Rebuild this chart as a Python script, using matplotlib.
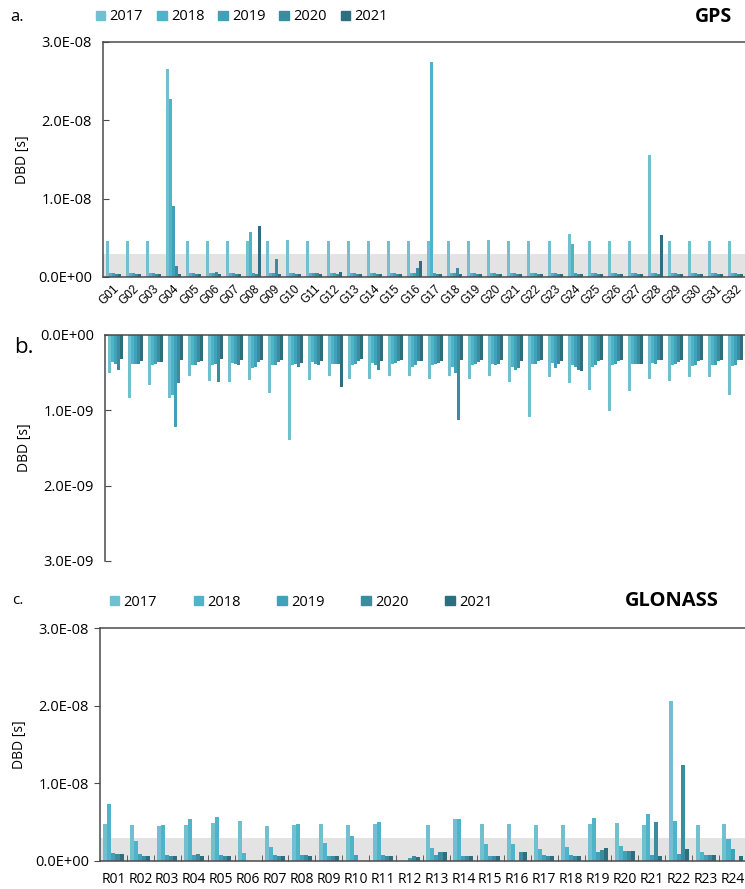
import matplotlib
matplotlib.use("Agg")
import matplotlib.pyplot as plt
import numpy as np
from matplotlib.patches import Patch
from matplotlib.ticker import FixedLocator, FuncFormatter

plt.rcParams["font.family"] = ["Open Sans", "DejaVu Sans"]

years = ["2017", "2018", "2019", "2020", "2021"]
colors = ["#72bfd0", "#4db4ca", "#3fa2b8", "#3a8c9e", "#2e6e7e"]

gps_sats = [f"G{i:02d}" for i in range(1, 33)]
glo_sats = [f"R{i:02d}" for i in range(1, 25)]

# panel a: GPS DBD, units of 1E-9 s
gps_2017 = [4.6, 4.6, 4.6, 26.5, 4.6, 4.6, 4.6, 4.6, 4.6, 4.7, 4.6, 4.6, 4.6, 4.6, 4.6, 4.6,
            4.6, 4.6, 4.6, 4.7, 4.6, 4.6, 4.6, 5.5, 4.6, 4.6, 4.6, 15.6, 4.6, 4.6, 4.6, 4.6]
gps_2018 = [0.45, 0.45, 0.45, 22.7, 0.45, 0.45, 0.45, 5.7, 0.45, 0.45, 0.45, 0.45, 0.45, 0.45, 0.45, 0.45,
            27.5, 0.45, 0.45, 0.45, 0.45, 0.45, 0.45, 4.2, 0.45, 0.45, 0.45, 0.45, 0.45, 0.45, 0.45, 0.45]
gps_2019 = [0.45, 0.45, 0.45, 9.0, 0.45, 0.5, 0.45, 0.45, 0.45, 0.45, 0.45, 0.45, 0.45, 0.45, 0.45, 0.45,
            0.45, 0.45, 0.45, 0.45, 0.45, 0.45, 0.45, 0.45, 0.45, 0.45, 0.45, 0.45, 0.45, 0.45, 0.45, 0.45]
gps_2020 = [0.4, 0.4, 0.4, 1.4, 0.4, 0.7, 0.4, 0.4, 2.3, 0.4, 0.45, 0.4, 0.4, 0.4, 0.4, 1.2,
            0.4, 1.15, 0.4, 0.4, 0.4, 0.4, 0.4, 0.4, 0.4, 0.4, 0.4, 0.4, 0.4, 0.4, 0.4, 0.4]
gps_2021 = [0.35, 0.35, 0.35, 0.4, 0.35, 0.35, 0.35, 6.5, 0.35, 0.35, 0.35, 0.7, 0.35, 0.35, 0.35, 2.0,
            0.35, 0.35, 0.35, 0.35, 0.35, 0.35, 0.35, 0.35, 0.35, 0.35, 0.35, 5.4, 0.35, 0.35, 0.35, 0.35]

# panel b: GPS, zoomed range, units of 1E-9 s
b_2017 = [0.51, 0.84, 0.67, 0.83, 0.54, 0.61, 0.62, 0.60, 0.77, 1.40, 0.60, 0.55, 0.59, 0.58, 0.55, 0.54,
          0.59, 0.54, 0.59, 0.55, 0.62, 1.09, 0.56, 0.64, 0.73, 1.01, 0.74, 0.59, 0.61, 0.56, 0.56, 0.80]
b_2018 = [0.36, 0.39, 0.40, 0.79, 0.40, 0.40, 0.37, 0.44, 0.40, 0.40, 0.36, 0.39, 0.40, 0.37, 0.39, 0.42,
          0.40, 0.43, 0.40, 0.39, 0.43, 0.39, 0.37, 0.40, 0.42, 0.40, 0.39, 0.37, 0.40, 0.41, 0.40, 0.41]
b_2019 = [0.38, 0.39, 0.39, 1.22, 0.40, 0.39, 0.39, 0.42, 0.40, 0.39, 0.39, 0.39, 0.39, 0.40, 0.37, 0.40,
          0.39, 0.50, 0.39, 0.40, 0.47, 0.39, 0.44, 0.43, 0.40, 0.39, 0.39, 0.39, 0.39, 0.40, 0.40, 0.40]
b_2020 = [0.46, 0.38, 0.36, 0.64, 0.36, 0.63, 0.40, 0.36, 0.36, 0.43, 0.40, 0.39, 0.35, 0.47, 0.35, 0.35,
          0.37, 1.13, 0.36, 0.39, 0.44, 0.35, 0.39, 0.46, 0.34, 0.35, 0.39, 0.33, 0.36, 0.35, 0.35, 0.33]
b_2021 = [0.32, 0.35, 0.36, 0.33, 0.35, 0.32, 0.33, 0.33, 0.33, 0.37, 0.35, 0.69, 0.32, 0.35, 0.33, 0.35,
          0.35, 0.33, 0.33, 0.33, 0.34, 0.33, 0.35, 0.48, 0.33, 0.33, 0.39, 0.33, 0.33, 0.33, 0.33, 0.33]

# panel c: GLONASS DBD, units of 1E-9 s
glo_2017 = [4.7, 4.6, 4.5, 4.6, 4.9, 5.1, 4.55, 4.6, 4.8, 4.6, 4.75, 0.0,
            4.6, 5.35, 4.7, 4.8, 4.6, 4.65, 4.75, 4.85, 4.6, 20.6, 4.65, 4.8]
glo_2018 = [7.4, 2.6, 4.65, 5.4, 5.65, 1.0, 1.8, 4.7, 2.3, 3.2, 5.05, 0.0,
            1.7, 5.35, 2.15, 2.2, 1.5, 1.8, 5.5, 1.9, 6.0, 5.2, 1.2, 2.85]
glo_2019 = [1.0, 0.85, 0.8, 0.8, 0.75, 0.0, 0.8, 0.8, 0.7, 0.8, 0.74, 0.35,
            0.74, 0.7, 0.7, 0.0, 0.75, 0.8, 1.2, 1.25, 0.75, 0.85, 0.8, 1.55]
glo_2020 = [0.9, 0.65, 0.7, 0.9, 0.65, 0.0, 0.7, 0.8, 0.7, 0.0, 0.7, 0.6,
            1.2, 0.65, 0.65, 1.1, 0.7, 0.7, 1.4, 1.25, 5.0, 12.3, 0.75, 0.0]
glo_2021 = [0.85, 0.6, 0.6, 0.6, 0.6, 0.0, 0.7, 0.7, 0.7, 0.0, 0.7, 0.55,
            1.2, 0.6, 0.6, 1.2, 0.65, 0.65, 1.7, 1.3, 0.6, 1.5, 0.75, 0.65]

SPINE = "#4a4a4a"
BAND = "#e3e3e3"
sci = FuncFormatter(lambda v, p: f"{v:.1E}")


def grouped(ax, series, n):
    x = np.arange(n)
    w = 0.15
    for i, (vals, c) in enumerate(zip(series, colors)):
        ax.bar(x + (i - 2) * w, np.array(vals) * 1e-9, width=w, color=c,
               linewidth=0, zorder=2)
    ax.set_xlim(-0.5, n - 0.5)


def frame(ax, top=True, bottom=True):
    for s in ax.spines.values():
        s.set_color(SPINE)
        s.set_linewidth(1.1)
    ax.spines["right"].set_visible(False)
    ax.spines["top"].set_visible(top)
    ax.spines["bottom"].set_visible(bottom)


fig = plt.figure(figsize=(7.45, 8.89), dpi=100)
W, H = 745, 889


def axes_px(x0, y0, x1, y1):
    return fig.add_axes([x0 / W, 1 - y1 / H, (x1 - x0) / W, (y1 - y0) / H])


# ---- a. GPS
ax1 = axes_px(103, 42, 746, 277)
ax1.axhspan(0, 3e-9, color=BAND, zorder=0, lw=0)
grouped(ax1, [gps_2017, gps_2018, gps_2019, gps_2020, gps_2021], 32)
ax1.set_ylim(0, 3e-8)
ax1.yaxis.set_major_locator(FixedLocator([0, 1e-8, 2e-8, 3e-8]))
ax1.yaxis.set_major_formatter(sci)
ax1.set_xticks(np.arange(32))
ax1.set_xticklabels(gps_sats, rotation=45, ha="right", rotation_mode="anchor",
                    family=["Liberation Sans"], fontsize=8.5)
ax1.tick_params(axis="x", length=0, pad=4)
ax1.tick_params(axis="y", direction="in", length=4, labelsize=10.5, pad=8, color=SPINE)
ax1.set_ylabel("DBD [s]", fontsize=10, labelpad=6)
frame(ax1)

# ---- b. GPS zoom
ax2 = axes_px(105, 335, 746, 561)
grouped(ax2, [b_2017, b_2018, b_2019, b_2020, b_2021], 32)
ax2.set_ylim(3e-9, 0)
ax2.yaxis.set_major_locator(FixedLocator([0, 1e-9, 2e-9, 3e-9]))
ax2.yaxis.set_major_formatter(sci)
ax2.set_xticks([])
ax2.tick_params(axis="y", direction="in", length=4, labelsize=10.5, pad=8, color=SPINE)
ax2.set_ylabel("DBD [s]", fontsize=10, labelpad=6)
frame(ax2, top=True, bottom=False)

# ---- c. GLONASS
ax3 = axes_px(100, 628, 746, 861)
ax3.axhspan(0, 3e-9, color=BAND, zorder=0, lw=0)
grouped(ax3, [glo_2017, glo_2018, glo_2019, glo_2020, glo_2021], 24)
ax3.set_ylim(0, 3e-8)
ax3.yaxis.set_major_locator(FixedLocator([0, 1e-8, 2e-8, 3e-8]))
ax3.yaxis.set_major_formatter(sci)
ax3.set_xticks(np.arange(24))
ax3.set_xticklabels(glo_sats, fontsize=10)
ax3.set_xticks(np.arange(24) + 0.5, minor=True)
ax3.tick_params(axis="x", which="major", length=0, pad=8)
ax3.tick_params(axis="x", which="minor", direction="in", length=4, color=SPINE)
ax3.tick_params(axis="y", direction="out", length=4, labelsize=10.5, pad=4, color=SPINE)
ax3.set_ylabel("DBD [s]", fontsize=10, labelpad=6)
frame(ax3)

# ---- legends and labels
handles = [Patch(color=c, label=y) for c, y in zip(colors, years)]
fig.legend(handles=handles, ncol=5, loc="center left", bbox_to_anchor=(90 / W, 1 - 17 / H),
           frameon=False, fontsize=10.5, handlelength=0.65, handleheight=0.65,
           handletextpad=0.3, columnspacing=0.95, borderaxespad=0)
fig.legend(handles=handles, ncol=5, loc="center left", bbox_to_anchor=(104 / W, 1 - 602 / H),
           frameon=False, fontsize=10.5, handlelength=0.65, handleheight=0.65,
           handletextpad=0.3, columnspacing=2.5, borderaxespad=0)

fig.text(10 / W, 1 - 17 / H, "a.", fontsize=12, va="center")
fig.text(14 / W, 1 - 347 / H, "b.", fontsize=16, va="center")
fig.text(12 / W, 1 - 601 / H, "c.", fontsize=11, va="center")
fig.text(732 / W, 1 - 17 / H, "GPS", fontsize=14, fontweight="bold", ha="right", va="center")
fig.text(719 / W, 1 - 601 / H, "GLONASS", fontsize=14.5, fontweight="bold", ha="right", va="center")

fig.savefig("out.png", dpi=100)
